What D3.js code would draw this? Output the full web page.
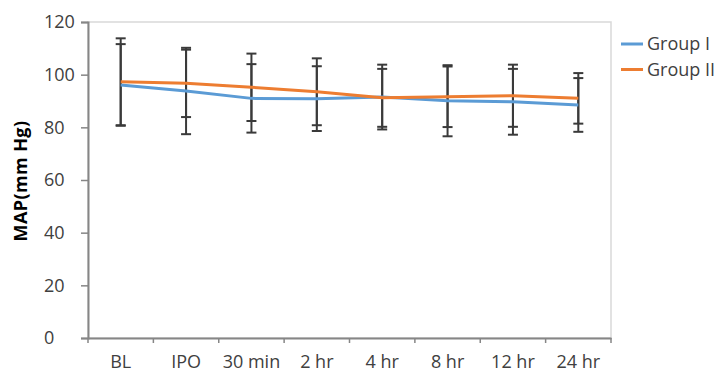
<!DOCTYPE html>
<html>
<head>
<meta charset="utf-8">
<script src="https://cdn.jsdelivr.net/npm/d3@7"></script>
<style>
  body { margin: 0; background: #fff; }
  svg { display: block; font-family: "Open Sans", sans-serif; }
</style>
</head>
<body>
<script>
var categories = ["BL", "IPO", "30 min", "2 hr", "4 hr", "8 hr", "12 hr", "24 hr"];
var group1 = [96.1, 93.8, 91.0, 90.9, 91.5, 90.1, 89.7, 88.5];
var group1Sd = [15.5, 16.4, 13.0, 12.3, 12.3, 13.5, 12.5, 10.2];
var group2 = [97.3, 96.7, 95.2, 93.5, 91.2, 91.6, 92.0, 91.0];
var group2Sd = [16.5, 12.8, 12.8, 12.7, 11.0, 11.5, 11.8, 9.6];
var yTicks = [0, 20, 40, 60, 80, 100, 120];
var seriesNames = ["Group I", "Group II"];

var width = 717, height = 372;
var plotLeft = 88, plotRight = 611, plotTop = 22, plotBottom = 338;
var colors = ["#5b9bd5", "#ed7d31"];
var textColor = "#404040", axisColor = "#868686";

var svg = d3.select("body").append("svg")
    .attr("width", width)
    .attr("height", height);

var x = d3.scaleBand().domain(categories).range([plotLeft, plotRight]);
var y = d3.scaleLinear().domain([0, 120]).range([plotBottom, plotTop]);

// plot area frame
svg.append("rect")
    .attr("x", plotLeft).attr("y", plotTop)
    .attr("width", plotRight - plotLeft).attr("height", plotBottom - plotTop)
    .attr("fill", "none")
    .attr("stroke", "#d9d9d9")
    .attr("stroke-width", 1.5);

// axes
var yAxis = svg.append("g")
    .attr("transform", "translate(" + plotLeft + ",0)")
    .call(d3.axisLeft(y).tickValues(yTicks).tickSize(7));
var xAxis = svg.append("g")
    .attr("transform", "translate(0," + plotBottom + ")")
    .call(d3.axisBottom(x).tickSize(0).tickPadding(17));

// y labels sit left-aligned in the reference
yAxis.selectAll(".tick text")
    .attr("text-anchor", "start")
    .attr("x", 44 - plotLeft);

// x ticks between categories
svg.append("g").selectAll("line")
    .data(d3.range(categories.length + 1))
    .enter().append("line")
    .attr("x1", function(i) { return plotLeft + i * x.step(); })
    .attr("x2", function(i) { return plotLeft + i * x.step(); })
    .attr("y1", plotBottom).attr("y2", plotBottom + 5)
    .attr("stroke", axisColor).attr("stroke-width", 1.5);

[yAxis, xAxis].forEach(function(g) {
  g.attr("font-family", null).attr("font-size", null);
  g.select(".domain").attr("stroke", axisColor).attr("stroke-width", 2);
  g.selectAll(".tick line").attr("stroke", axisColor).attr("stroke-width", 1.5);
  g.selectAll("text").attr("fill", textColor).style("font-size", "18px");
});

svg.append("text")
    .attr("transform", "translate(27,181) rotate(-90)")
    .attr("text-anchor", "middle")
    .attr("fill", "#000")
    .style("font-size", "18px")
    .style("font-weight", "bold")
    .style("letter-spacing", "0.4px")
    .text("MAP(mm Hg)");

var series = [
  { name: seriesNames[0], values: group1, sd: group1Sd, color: colors[0] },
  { name: seriesNames[1], values: group2, sd: group2Sd, color: colors[1] }
];

var cx = function(i) { return x(categories[i]) + x.bandwidth() / 2; };

// error bars
series.forEach(function(s) {
  var g = svg.append("g").attr("stroke", "#3a3a3a").attr("stroke-width", 2);
  s.values.forEach(function(v, i) {
    var hi = y(v + s.sd[i]), lo = y(v - s.sd[i]);
    g.append("line").attr("x1", cx(i)).attr("x2", cx(i)).attr("y1", hi).attr("y2", lo);
    g.append("line").attr("x1", cx(i) - 5).attr("x2", cx(i) + 5).attr("y1", hi).attr("y2", hi);
    g.append("line").attr("x1", cx(i) - 5).attr("x2", cx(i) + 5).attr("y1", lo).attr("y2", lo);
  });
});

var line = d3.line()
    .x(function(d, i) { return cx(i); })
    .y(function(d) { return y(d); });

series.forEach(function(s) {
  svg.append("path")
      .datum(s.values)
      .attr("d", line)
      .attr("fill", "none")
      .attr("stroke", s.color)
      .attr("stroke-width", 3);
});

// legend
var legend = svg.append("g").selectAll("g")
    .data(series)
    .enter().append("g")
    .attr("transform", function(d, i) { return "translate(621," + (44 + i * 25.5) + ")"; });
legend.append("line")
    .attr("x1", 0).attr("x2", 22)
    .attr("stroke", function(d) { return d.color; })
    .attr("stroke-width", 3);
legend.append("text")
    .attr("x", 26).attr("dy", "0.35em")
    .attr("fill", textColor)
    .style("font-size", "18px")
    .text(function(d) { return d.name; });
</script>
</body>
</html>
